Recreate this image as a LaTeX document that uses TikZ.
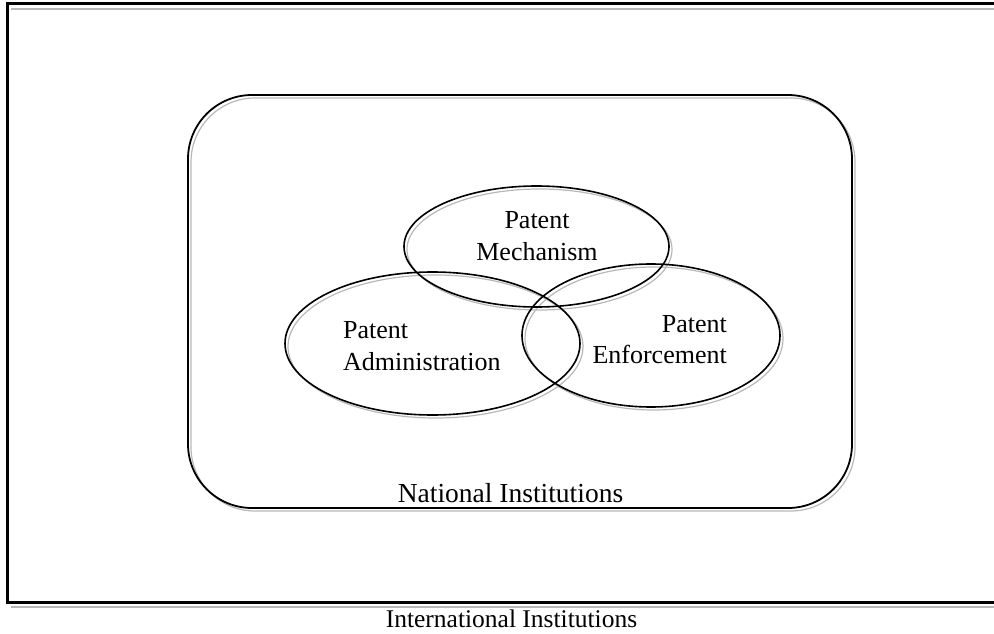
\documentclass[tikz,border=0pt]{standalone}
\usepackage{fontspec}
\setmainfont{Liberation Serif}
\usetikzlibrary{shapes.geometric}
\begin{document}
\begin{tikzpicture}[x=1pt,y=-1pt,
  shade/.style={draw=black!28,line width=1.2pt},
  ell/.style={ellipse,draw,line width=1.6pt,inner sep=0pt},
  ellsh/.style={ellipse,shade,inner sep=0pt},
  lbl/.style={font=\fontsize{26}{30}\selectfont,inner sep=0pt,anchor=base}]
\useasboundingbox (0,0) rectangle (994,634);
% outer frame
\draw[shade] (11,9) -- (1000,9);
\draw[shade] (11,607) -- (1000,607);
\draw[line width=3pt] (1000,4) -- (7,4) -- (7,602) -- (1000,602);
% rounded rectangle
\draw[shade,rounded corners=64pt] (191,98) rectangle (855,511);
\draw[line width=1.8pt,rounded corners=64pt] (188,95) rectangle (852,508);
% ellipse shadows
\node[ellsh,minimum width=265pt,minimum height=121pt] at (539.5,249.5) {};
\node[ellsh,minimum width=295pt,minimum height=143pt] at (435.5,346.5) {};
\node[ellsh,minimum width=258pt,minimum height=143pt] at (654,338.5) {};
% ellipses
\node[ell,minimum width=265pt,minimum height=121pt] (mech) at (536.5,246.5) {};
\node[ell,minimum width=295pt,minimum height=143pt] (adm) at (432.5,343.5) {};
\node[ell,minimum width=258pt,minimum height=143pt] (enf) at (651,335.5) {};
% labels
\node[lbl] (m1) at (537,228) {Patent};
\node[lbl] (m2) at (537,260) {Mechanism};
\node[lbl,anchor=base west] (a1) at (343,338) {Patent};
\node[lbl,anchor=base west] (a2) at (343,370) {Administration};
\node[lbl,anchor=base east] (e1) at (727,332) {Patent};
\node[lbl,anchor=base east] (e2) at (727,363) {Enforcement};
\node[lbl,font=\fontsize{27.5}{32}\selectfont] (nat) at (510.5,502) {National Institutions};
\node[lbl,font=\fontsize{25.5}{30}\selectfont] (int) at (511.5,627) {International Institutions};
\end{tikzpicture}
\end{document}
